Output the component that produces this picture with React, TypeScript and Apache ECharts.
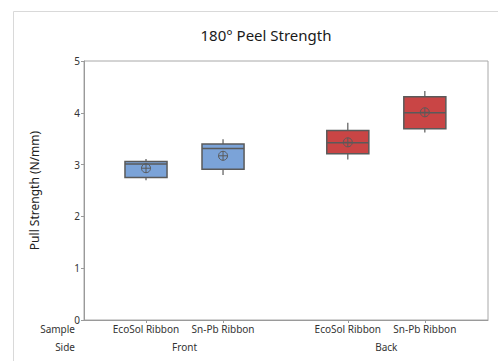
import React, { useEffect, useRef } from "react";
import * as echarts from "echarts";

const samples = ["EcoSol Ribbon", "Sn-Pb Ribbon", "EcoSol Ribbon", "Sn-Pb Ribbon"];
const sides = ["Front", "Front", "Back", "Back"];
const sideNames = ["Front", "Back"];
const whiskerLow = [2.7, 2.8, 3.1, 3.62];
const q1 = [2.75, 2.91, 3.21, 3.69];
const median = [3.01, 3.31, 3.42, 4.0];
const q3 = [3.06, 3.4, 3.66, 4.31];
const whiskerHigh = [3.11, 3.49, 3.81, 4.42];
const means = [2.93, 3.17, 3.43, 4.01];
const yTicks = [0, 1, 2, 3, 4, 5];

const FONT = "Noto Sans";
const GROUP_STEP = 2.62;
const sideColors: Record<string, string> = { Front: "#7BA3D8", Back: "#C94545" };

export default function App() {
  const ref = useRef<HTMLDivElement>(null);
  useEffect(() => {
    if (!ref.current) return;
    const chart = echarts.init(ref.current, null, { renderer: "svg" });

    const counters: Record<string, number> = {};
    const xPos = sides.map((s) => {
      const g = sideNames.indexOf(s);
      const k = counters[s] || 0;
      counters[s] = k + 1;
      return g * GROUP_STEP + k;
    });
    const groupCenters = sideNames.map((s) => {
      const xs = xPos.filter((_, i) => sides[i] === s);
      return xs.reduce((a, b) => a + b, 0) / xs.length;
    });

    const data = samples.map((_, i) => [
      xPos[i], whiskerLow[i], q1[i], median[i], q3[i], whiskerHigh[i], means[i], sideNames.indexOf(sides[i]),
    ]);

    const nearestLabel = (v: number, xs: number[], names: string[]) => {
      let best = 0;
      xs.forEach((x, i) => { if (Math.abs(x - v) < Math.abs(xs[best] - v)) best = i; });
      return names[best];
    };

    const stroke = "#5a5a5a";
    chart.setOption({
      animation: false,
      title: {
        text: "180° Peel Strength",
        left: 261,
        top: 22,
        textAlign: "center",
        textStyle: { fontFamily: FONT, fontSize: 15, fontWeight: "normal", color: "#1a1a1a" },
      },
      grid: { left: 84, right: 10, top: 61, bottom: 41, show: true, borderColor: "#a8a8a8", borderWidth: 1 },
      xAxis: [
        {
          type: "value",
          min: -0.805,
          max: 4.44,
          splitLine: { show: false },
          axisLine: { show: true, onZero: false, lineStyle: { color: "#9a9a9a" } },
          axisTick: { show: true, length: 3, customValues: xPos, lineStyle: { color: "#9a9a9a" } },
          axisLabel: {
            customValues: xPos,
            margin: 4,
            fontFamily: FONT,
            fontSize: 10,
            color: "#333",
            formatter: (v: number) => nearestLabel(v, xPos, samples),
          },
        },
        {
          type: "value",
          position: "bottom",
          offset: 18,
          min: -0.805,
          max: 4.44,
          splitLine: { show: false },
          axisLine: { show: false, onZero: false },
          axisTick: { show: false },
          axisLabel: {
            customValues: groupCenters,
            margin: 4,
            fontFamily: FONT,
            fontSize: 10,
            color: "#333",
            formatter: (v: number) => nearestLabel(v, groupCenters, sideNames),
          },
        },
      ],
      yAxis: {
        type: "value",
        min: yTicks[0],
        max: yTicks[yTicks.length - 1],
        interval: 1,
        name: "Pull Strength (N/mm)",
        nameLocation: "middle",
        nameGap: 44,
        nameTextStyle: { fontFamily: FONT, fontSize: 12, color: "#222" },
        splitLine: { show: false },
        axisLine: { show: true, onZero: false, lineStyle: { color: "#9a9a9a" } },
        axisTick: { show: true, length: 3, lineStyle: { color: "#9a9a9a" } },
        axisLabel: { margin: 4, fontFamily: FONT, fontSize: 10, color: "#333" },
      },
      graphic: [
        { type: "rect", shape: { x: 13.5, y: 11.5, width: 520, height: 400 }, style: { fill: "none", stroke: "#d9d9d9", lineWidth: 1 }, silent: true },
        { type: "text", x: 75, y: 329, style: { text: "Sample", align: "right", verticalAlign: "middle", font: `10px ${FONT}`, fill: "#333" } },
        { type: "text", x: 75, y: 347, style: { text: "Side", align: "right", verticalAlign: "middle", font: `10px ${FONT}`, fill: "#333" } },
      ],
      series: [
        {
          type: "custom",
          xAxisIndex: 0,
          data,
          encode: { x: 0, y: [1, 2, 3, 4, 5, 6] },
          renderItem: (params: any, api: any) => {
            const x = api.value(0);
            const unit = api.size([1, 0])[0];
            const hw = unit * 0.273;
            const [cx, yLo] = api.coord([x, api.value(1)]);
            const yQ1 = api.coord([x, api.value(2)])[1];
            const yMed = api.coord([x, api.value(3)])[1];
            const yQ3 = api.coord([x, api.value(4)])[1];
            const yHi = api.coord([x, api.value(5)])[1];
            const yMean = api.coord([x, api.value(6)])[1];
            const color = sideColors[sideNames[api.value(7)]];
            const r = 4.5;
            return {
              type: "group",
              children: [
                { type: "line", shape: { x1: cx, y1: yHi, x2: cx, y2: yQ3 }, style: { stroke, lineWidth: 1.2 } },
                { type: "line", shape: { x1: cx, y1: yQ1, x2: cx, y2: yLo }, style: { stroke, lineWidth: 1.2 } },
                { type: "rect", shape: { x: cx - hw, y: yQ3, width: hw * 2, height: yQ1 - yQ3 }, style: { fill: color, stroke, lineWidth: 1.5 } },
                { type: "line", shape: { x1: cx - hw, y1: yMed, x2: cx + hw, y2: yMed }, style: { stroke, lineWidth: 1.5 } },
                { type: "circle", shape: { cx, cy: yMean, r }, style: { fill: "none", stroke, lineWidth: 1 } },
                { type: "line", shape: { x1: cx - r, y1: yMean, x2: cx + r, y2: yMean }, style: { stroke, lineWidth: 1 } },
                { type: "line", shape: { x1: cx, y1: yMean - r, x2: cx, y2: yMean + r }, style: { stroke, lineWidth: 1 } },
              ],
            };
          },
        },
      ],
    });
    return () => chart.dispose();
  }, []);
  return <div ref={ref} style={{ position: "absolute", left: 0, top: 0, width: 498, height: 361 }} />;
}
